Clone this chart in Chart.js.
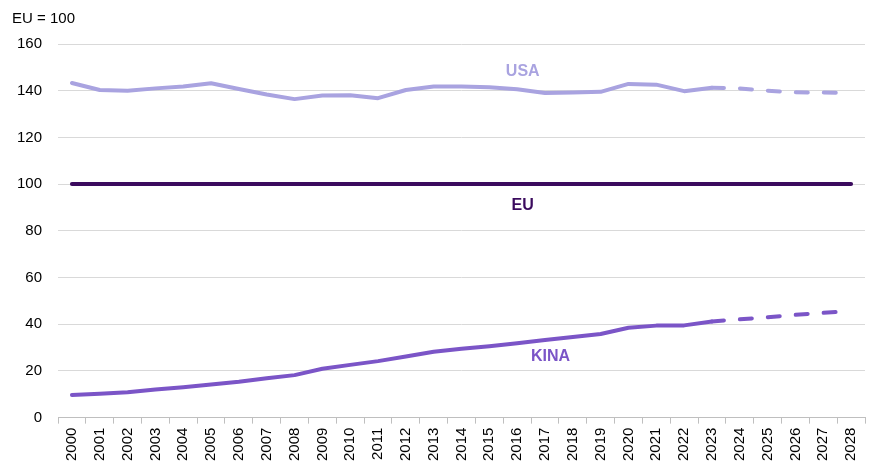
<!DOCTYPE html>
<html>
<head>
<meta charset="utf-8">
<script src="https://cdn.jsdelivr.net/npm/chart.js@4.4.1/dist/chart.umd.min.js"></script>
<style>
html,body{margin:0;padding:0;background:#fff;}
#wrap{width:869px;height:471px;position:relative;}
</style>
</head>
<body>
<div id="wrap"><canvas id="c"></canvas></div>
<script>
const years = ['2000','2001','2002','2003','2004','2005','2006','2007','2008','2009','2010','2011','2012','2013','2014','2015','2016','2017','2018','2019','2020','2021','2022','2023','2024','2025','2026','2027','2028'];
const usa = [143.3,140.3,140.0,141.0,141.8,143.2,140.7,138.4,136.4,137.9,138.1,136.8,140.3,141.8,141.8,141.5,140.6,139.0,139.2,139.5,142.9,142.6,139.8,141.3,141.0,140.0,139.3,139.2,139.0];
const eu = [100,100,100,100,100,100,100,100,100,100,100,100,100,100,100,100,100,100,100,100,100,100,100,100,100,100,100,100,100];
const kina = [9.7,10.2,10.9,12.0,13.0,14.2,15.4,16.9,18.2,20.9,22.6,24.2,26.2,28.2,29.5,30.6,31.9,33.2,34.5,35.8,38.5,39.4,39.5,41.2,42.1,43.0,44.0,44.9,45.6];
const yTicks = [0,20,40,60,80,100,120,140,160];
const axisTitle = 'EU = 100';
const forecastStart = 23; // index of 2023: dashed from here on
const seriesLabels = [
  {text:'USA', x:16.2, y:148.3, color:'#a9a3e0'},
  {text:'EU', x:16.2, y:90.6, color:'#3b0b5e'},
  {text:'KINA', x:17.2, y:26.0, color:'#7b55c7'}
];

const FONT = '"Liberation Sans", Arial, sans-serif';
const dashSeg = {borderDash: ctx => ctx.p0DataIndex >= forecastStart ? [12,16] : undefined};

const labelPlugin = {
  id:'seriesLabels',
  afterDatasetsDraw(chart){
    const {ctx, chartArea, scales:{x, y}} = chart;
    ctx.save();
    ctx.font = 'bold 16px ' + FONT;
    ctx.textAlign = 'center';
    ctx.textBaseline = 'middle';
    seriesLabels.forEach(l => {
      ctx.fillStyle = l.color;
      ctx.fillText(l.text, x.getPixelForValue(l.x), y.getPixelForValue(l.y));
    });
    ctx.font = '15px ' + FONT;
    ctx.fillStyle = '#000';
    ctx.textAlign = 'left';
    ctx.fillText(axisTitle, chartArea.left - 46, chartArea.top - 25);
    ctx.restore();
  }
};

new Chart(document.getElementById('c'), {
  type:'line',
  data:{
    labels: years,
    datasets:[
      {label:'USA', data:usa, borderColor:'#a9a3e0', borderWidth:4, pointRadius:0, tension:0, borderCapStyle:'round', borderJoinStyle:'round', segment:dashSeg},
      {label:'EU', data:eu, borderColor:'#3b0b5e', borderWidth:4, pointRadius:0, tension:0, borderCapStyle:'round'},
      {label:'KINA', data:kina, borderColor:'#7b55c7', borderWidth:4, pointRadius:0, tension:0, borderCapStyle:'round', borderJoinStyle:'round', segment:dashSeg}
    ]
  },
  options:{
    responsive:true,
    maintainAspectRatio:false,
    animation:false,
    layout:{padding:{left:1, right:0, top:44, bottom:6}},
    plugins:{
      legend:{display:false},
      tooltip:{enabled:false},
      title:{display:false}
    },
    scales:{
      x:{
        type:'category',
        offset:true,
        afterFit(scale){ scale.paddingRight = 4; },
        grid:{display:true, drawOnChartArea:false, drawTicks:true, tickLength:6, offset:true, color:'#bfbfbf'},
        border:{display:true, color:'#bfbfbf'},
        ticks:{minRotation:90, maxRotation:90, autoSkip:false, color:'#000', padding:4,
          font:{family:FONT, size:15}}
      },
      y:{
        min:0, max:160,
        afterBuildTicks(axis){ axis.ticks = yTicks.map(v => ({value:v})); },
        grid:{color:'#d9d9d9', drawTicks:false, lineWidth:1},
        border:{display:false},
        ticks:{color:'#000', padding:16,
          font:{family:FONT, size:15}}
      }
    }
  },
  plugins:[labelPlugin]
});
</script>
</body>
</html>
